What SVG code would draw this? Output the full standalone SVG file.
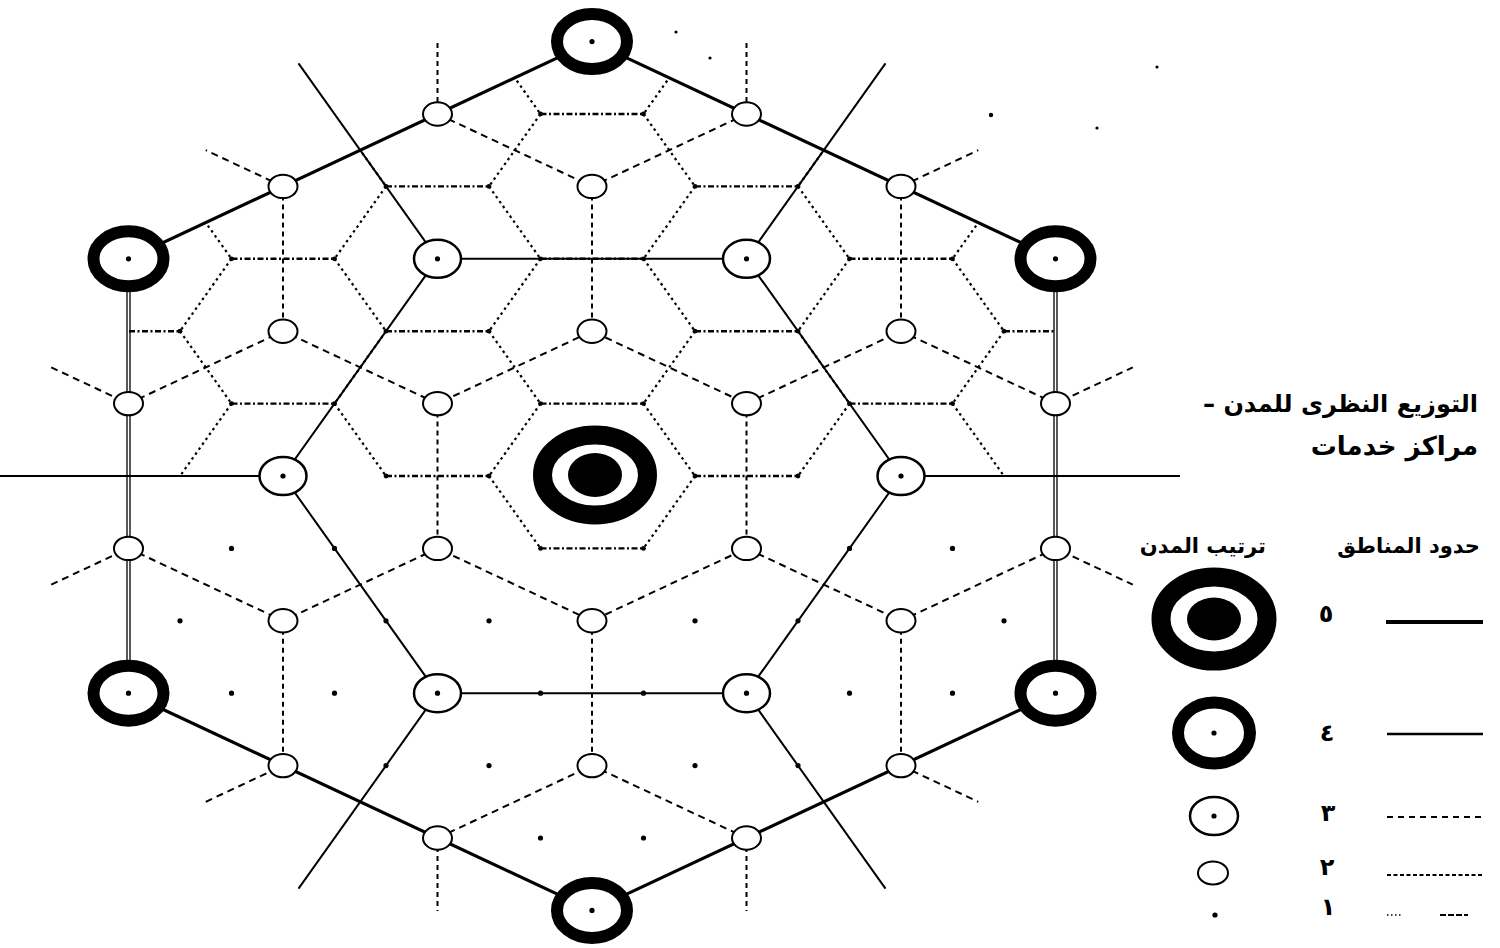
<svg xmlns="http://www.w3.org/2000/svg" xmlns:xlink="http://www.w3.org/1999/xlink" width="1500" height="948" viewBox="0 0 1500 948">
<style>
.bg{fill:#fff}
.l5{fill:none;stroke:#000;stroke-width:3.2;stroke-linejoin:round}
.l5d{fill:none;stroke:#000;stroke-width:1.3}
.l4{fill:none;stroke:#000;stroke-width:2}
.l3{fill:none;stroke:#000;stroke-width:2;stroke-dasharray:7 5}
.l3v{fill:none;stroke:#000;stroke-width:2;stroke-dasharray:5 4}
.l2h{fill:none;stroke:#000;stroke-width:2.4;stroke-dasharray:6 2.5 2 2.5}
.l2s{fill:none;stroke:#000;stroke-width:2.2;stroke-dasharray:2.5 3.5}
.o5{fill:#fff;stroke:#000;stroke-width:19}
.o4{fill:#fff;stroke:#000;stroke-width:12}
.o3{fill:#fff;stroke:#000;stroke-width:2.5}
.o2{fill:#fff;stroke:#000;stroke-width:2}
.dot{fill:#000}
.vm{fill:#000}
.title{font-family:'DejaVu Sans','Noto Sans',sans-serif;font-weight:bold;fill:#000}
.hdr{font-family:'DejaVu Sans','Noto Sans',sans-serif;font-weight:bold;font-size:21px;fill:#000}
.num{font-family:'DejaVu Sans','Noto Sans',sans-serif;font-weight:bold;font-size:24px;fill:#000}
</style>
<defs>
<clipPath id="hexclip"><polygon points="592,41.6 1055.5,258.8 1055.5,693.2 592,910.4 128.5,693.2 128.5,258.8"/></clipPath>
<g id="sym-o4"><ellipse rx="35" ry="27.5" class="o4"/><circle r="2.6" class="dot"/></g>
<g id="sym-o3"><ellipse rx="23.5" ry="19" class="o3"/><circle r="2.6" class="dot"/></g>
<ellipse id="sym-o2" rx="14.5" ry="11.7" class="o2"/>
<circle id="sym-o1" r="2.6" class="dot"/>
</defs>
<rect class="bg" x="0" y="0" width="1500" height="948"/>

<g id="connectors">
  <g id="bound2" clip-path="url(#hexclip)">
    <path class="l2s" d="M489,41.6 L540.5,114 M695,41.6 L643.5,114
    M643.5,114 L695,186.4 M540.5,114 L489,186.4 M849.5,114 L798,186.4 M334.5,114 L386,186.4
    M798,186.4 L849.5,258.8 M695,186.4 L643.5,258.8 M489,186.4 L540.5,258.8 M386,186.4 L334.5,258.8 M1004,186.4 L952.5,258.8 M180,186.4 L231.5,258.8
    M643.5,258.8 L695,331.2 M540.5,258.8 L489,331.2 M952.5,258.8 L1004,331.2 M849.5,258.8 L798,331.2 M334.5,258.8 L386,331.2 M231.5,258.8 L180,331.2
    M798,331.2 L849.5,403.6 M695,331.2 L643.5,403.6 M489,331.2 L540.5,403.6 M386,331.2 L334.5,403.6 M1004,331.2 L952.5,403.6 M180,331.2 L231.5,403.6
    M643.5,403.6 L695,476 M540.5,403.6 L489,476 M952.5,403.6 L1004,476 M849.5,403.6 L798,476 M334.5,403.6 L386,476 M231.5,403.6 L180,476
    M695,476 L643.5,548.4 M489,476 L540.5,548.4"/>
    <path class="l2h" d="M540.5,114 H643.5
    M386,186.4 H489 M695,186.4 H798
    M231.5,258.8 H334.5 M540.5,258.8 H643.5 M849.5,258.8 H952.5
    M77,331.2 H180 M386,331.2 H489 M695,331.2 H798 M1004,331.2 H1107
    M231.5,403.6 H334.5 M540.5,403.6 H643.5 M849.5,403.6 H952.5
    M386,476 H489 M695,476 H798
    M540.5,548.4 H643.5"/>
    <g class="vm">
      <circle cx="540.5" cy="114" r="2.4"/><circle cx="643.5" cy="114" r="2.4"/>
      <circle cx="386" cy="186.4" r="2.4"/><circle cx="489" cy="186.4" r="2.4"/><circle cx="695" cy="186.4" r="2.4"/><circle cx="798" cy="186.4" r="2.4"/>
      <circle cx="231.5" cy="258.8" r="2.4"/><circle cx="334.5" cy="258.8" r="2.4"/><circle cx="540.5" cy="258.8" r="2.4"/><circle cx="643.5" cy="258.8" r="2.4"/><circle cx="849.5" cy="258.8" r="2.4"/><circle cx="952.5" cy="258.8" r="2.4"/>
      <circle cx="180" cy="331.2" r="2.4"/><circle cx="386" cy="331.2" r="2.4"/><circle cx="489" cy="331.2" r="2.4"/><circle cx="695" cy="331.2" r="2.4"/><circle cx="798" cy="331.2" r="2.4"/><circle cx="1004" cy="331.2" r="2.4"/>
      <circle cx="231.5" cy="403.6" r="2.4"/><circle cx="334.5" cy="403.6" r="2.4"/><circle cx="540.5" cy="403.6" r="2.4"/><circle cx="643.5" cy="403.6" r="2.4"/><circle cx="849.5" cy="403.6" r="2.4"/><circle cx="952.5" cy="403.6" r="2.4"/>
      <circle cx="386" cy="476" r="2.4"/><circle cx="489" cy="476" r="2.4"/><circle cx="695" cy="476" r="2.4"/><circle cx="798" cy="476" r="2.4"/>
      <circle cx="540.5" cy="548.4" r="2.4"/><circle cx="643.5" cy="548.4" r="2.4"/>
    </g>
  </g>
  <g id="bound3">
    <path class="l3" d="M437.5,114 L592,186.4 L746.5,114
    M283,186.4 L205.75,150.2 M901,186.4 L978.25,150.2
    M51.25,367.4 L128.5,403.6 L283,331.2 L437.5,403.6 L592,331.2 L746.5,403.6 L901,331.2 L1055.5,403.6 L1132.75,367.4
    M51.25,584.6 L128.5,548.4 L283,620.8 L437.5,548.4 L592,620.8 L746.5,548.4 L901,620.8 L1055.5,548.4 L1132.75,584.6
    M205.75,801.8 L283,765.6 M901,765.6 L978.25,801.8
    M437.5,838 L592,765.6 L746.5,838"/>
    <path class="l3v" d="M592,186.4 V331.2 M437.5,403.6 V548.4 M746.5,403.6 V548.4
    M283,186.4 V331.2 M901,186.4 V331.2 M283,620.8 V765.6 M901,620.8 V765.6 M592,620.8 V765.6
    M437.5,43 V114 M746.5,43 V114 M437.5,838 V911 M746.5,838 V911"/>
  </g>
  <g id="bound4">
    <path class="l4" d="M437.5,258.8 H746.5 L901,476 L746.5,693.2 H437.5 L283,476 Z
    M437.5,258.8 L298.5,63.3 M746.5,258.8 L885.5,63.3
    M437.5,693.2 L298.5,888.7 M746.5,693.2 L885.5,888.7
    M0,476 H283 M901,476 H1180"/>
  </g>
  <g id="bound5">
    <path class="l5" d="M128.5,258.8 L592,41.6 L1055.5,258.8 M128.5,693.2 L592,910.4 L1055.5,693.2"/>
    <path class="l5d" d="M127,258.8 V693.2 M130,258.8 V693.2 M1054,258.8 V693.2 M1057,258.8 V693.2"/>
  </g>
</g>

<g id="nodes">
  <g id="o5-center"><ellipse cx="595" cy="475" rx="52.5" ry="40" class="o5"/><ellipse cx="595" cy="475" rx="27" ry="22" class="dot"/></g>
  <g id="o4-top"><use xlink:href="#sym-o4" x="592" y="41.6"/></g>
  <g id="o4-ul"><use xlink:href="#sym-o4" x="128.5" y="258.8"/></g>
  <g id="o4-ur"><use xlink:href="#sym-o4" x="1055.5" y="258.8"/></g>
  <g id="o4-ll"><use xlink:href="#sym-o4" x="128.5" y="693.2"/></g>
  <g id="o4-lr"><use xlink:href="#sym-o4" x="1055.5" y="693.2"/></g>
  <g id="o4-bottom"><use xlink:href="#sym-o4" x="592" y="910.4"/></g>
  <g id="o3-ul"><use xlink:href="#sym-o3" x="437.5" y="258.8"/></g>
  <g id="o3-ur"><use xlink:href="#sym-o3" x="746.5" y="258.8"/></g>
  <g id="o3-l"><use xlink:href="#sym-o3" x="283" y="476"/></g>
  <g id="o3-r"><use xlink:href="#sym-o3" x="901" y="476"/></g>
  <g id="o3-ll"><use xlink:href="#sym-o3" x="437.5" y="693.2"/></g>
  <g id="o3-lr"><use xlink:href="#sym-o3" x="746.5" y="693.2"/></g>
  <g id="o2-01"><use xlink:href="#sym-o2" x="592" y="186.4"/></g>
  <g id="o2-02"><use xlink:href="#sym-o2" x="592" y="331.2"/></g>
  <g id="o2-03"><use xlink:href="#sym-o2" x="592" y="620.8"/></g>
  <g id="o2-04"><use xlink:href="#sym-o2" x="592" y="765.6"/></g>
  <g id="o2-05"><use xlink:href="#sym-o2" x="437.5" y="114"/></g>
  <g id="o2-06"><use xlink:href="#sym-o2" x="746.5" y="114"/></g>
  <g id="o2-07"><use xlink:href="#sym-o2" x="437.5" y="403.6"/></g>
  <g id="o2-08"><use xlink:href="#sym-o2" x="746.5" y="403.6"/></g>
  <g id="o2-09"><use xlink:href="#sym-o2" x="437.5" y="548.4"/></g>
  <g id="o2-10"><use xlink:href="#sym-o2" x="746.5" y="548.4"/></g>
  <g id="o2-11"><use xlink:href="#sym-o2" x="437.5" y="838"/></g>
  <g id="o2-12"><use xlink:href="#sym-o2" x="746.5" y="838"/></g>
  <g id="o2-13"><use xlink:href="#sym-o2" x="283" y="186.4"/></g>
  <g id="o2-14"><use xlink:href="#sym-o2" x="901" y="186.4"/></g>
  <g id="o2-15"><use xlink:href="#sym-o2" x="283" y="331.2"/></g>
  <g id="o2-16"><use xlink:href="#sym-o2" x="901" y="331.2"/></g>
  <g id="o2-17"><use xlink:href="#sym-o2" x="283" y="620.8"/></g>
  <g id="o2-18"><use xlink:href="#sym-o2" x="901" y="620.8"/></g>
  <g id="o2-19"><use xlink:href="#sym-o2" x="283" y="765.6"/></g>
  <g id="o2-20"><use xlink:href="#sym-o2" x="901" y="765.6"/></g>
  <g id="o2-21"><use xlink:href="#sym-o2" x="128.5" y="403.6"/></g>
  <g id="o2-22"><use xlink:href="#sym-o2" x="1055.5" y="403.6"/></g>
  <g id="o2-23"><use xlink:href="#sym-o2" x="128.5" y="548.4"/></g>
  <g id="o2-24"><use xlink:href="#sym-o2" x="1055.5" y="548.4"/></g>
  <g id="o1-01"><use xlink:href="#sym-o1" x="231.5" y="548.4"/></g>
  <g id="o1-02"><use xlink:href="#sym-o1" x="334.5" y="548.4"/></g>
  <g id="o1-03"><use xlink:href="#sym-o1" x="849.5" y="548.4"/></g>
  <g id="o1-04"><use xlink:href="#sym-o1" x="952.5" y="548.4"/></g>
  <g id="o1-05"><use xlink:href="#sym-o1" x="180" y="620.8"/></g>
  <g id="o1-06"><use xlink:href="#sym-o1" x="386" y="620.8"/></g>
  <g id="o1-07"><use xlink:href="#sym-o1" x="489" y="620.8"/></g>
  <g id="o1-08"><use xlink:href="#sym-o1" x="695" y="620.8"/></g>
  <g id="o1-09"><use xlink:href="#sym-o1" x="798" y="620.8"/></g>
  <g id="o1-10"><use xlink:href="#sym-o1" x="1004" y="620.8"/></g>
  <g id="o1-11"><use xlink:href="#sym-o1" x="231.5" y="693.2"/></g>
  <g id="o1-12"><use xlink:href="#sym-o1" x="334.5" y="693.2"/></g>
  <g id="o1-13"><use xlink:href="#sym-o1" x="540.5" y="693.2"/></g>
  <g id="o1-14"><use xlink:href="#sym-o1" x="643.5" y="693.2"/></g>
  <g id="o1-15"><use xlink:href="#sym-o1" x="849.5" y="693.2"/></g>
  <g id="o1-16"><use xlink:href="#sym-o1" x="952.5" y="693.2"/></g>
  <g id="o1-17"><use xlink:href="#sym-o1" x="386" y="765.6"/></g>
  <g id="o1-18"><use xlink:href="#sym-o1" x="489" y="765.6"/></g>
  <g id="o1-19"><use xlink:href="#sym-o1" x="695" y="765.6"/></g>
  <g id="o1-20"><use xlink:href="#sym-o1" x="798" y="765.6"/></g>
  <g id="o1-21"><use xlink:href="#sym-o1" x="540.5" y="838"/></g>
  <g id="o1-22"><use xlink:href="#sym-o1" x="643.5" y="838"/></g>
  <g id="o1-23"><circle cx="991" cy="115" r="2.2" class="dot"/></g>
  <g id="o1-24"><circle cx="1097" cy="128" r="1.6" class="dot"/></g>
  <g id="o1-25"><circle cx="1157" cy="67" r="1.6" class="dot"/></g>
  <g id="o1-26"><circle cx="710" cy="58" r="1.6" class="dot"/></g>
  <g id="o1-27"><circle cx="676" cy="32" r="1.6" class="dot"/></g>
</g>

<g id="legend">
  <text class="title" x="1478" y="412" font-size="24" direction="rtl" text-anchor="start">التوزيع النظرى للمدن –</text>
  <text class="title" x="1478" y="455" font-size="26" direction="rtl" text-anchor="start">مراكز خدمات</text>
  <text class="hdr" x="1480" y="553" direction="rtl" text-anchor="start">حدود المناطق</text>
  <text class="hdr" x="1266" y="553" direction="rtl" text-anchor="start">ترتيب المدن</text>
  <g id="leg-5">
    <ellipse cx="1214" cy="619" rx="53" ry="42" class="o5"/><ellipse cx="1214" cy="619" rx="27" ry="21.5" class="dot"/>
    <text class="num" x="1326" y="614" text-anchor="middle" dominant-baseline="central">٥</text>
    <line x1="1386" y1="622" x2="1483" y2="622" stroke="#000" stroke-width="4"/>
  </g>
  <g id="leg-4">
    <ellipse cx="1214" cy="733" rx="36" ry="30.5" class="o4"/><circle cx="1214" cy="733" r="2.6" class="dot"/>
    <text class="num" x="1327" y="733" text-anchor="middle" dominant-baseline="central">٤</text>
    <line x1="1387" y1="734" x2="1483" y2="734" stroke="#000" stroke-width="2.4"/>
  </g>
  <g id="leg-3">
    <ellipse cx="1214" cy="816" rx="24" ry="19" class="o3"/><circle cx="1214" cy="816" r="2.6" class="dot"/>
    <text class="num" x="1328" y="813" text-anchor="middle" dominant-baseline="central">٣</text>
    <line x1="1387" y1="817" x2="1483" y2="817" stroke="#000" stroke-width="2" stroke-dasharray="6 5"/>
  </g>
  <g id="leg-2">
    <ellipse cx="1213" cy="873" rx="15" ry="11.5" class="o2"/>
    <text class="num" x="1327" y="867" text-anchor="middle" dominant-baseline="central">٢</text>
    <line x1="1387" y1="875" x2="1483" y2="875" stroke="#000" stroke-width="2" stroke-dasharray="4 2.5"/>
  </g>
  <g id="leg-1">
    <circle cx="1215" cy="915" r="2.6" class="dot"/>
    <text class="num" x="1328" y="907" text-anchor="middle" dominant-baseline="central">١</text>
    <line x1="1387" y1="915" x2="1403" y2="915" stroke="#000" stroke-width="1.6" stroke-dasharray="1.5 2.5"/>
    <line x1="1440" y1="915" x2="1468" y2="915" stroke="#000" stroke-width="2" stroke-dasharray="6 2"/>
  </g>
</g>
</svg>
